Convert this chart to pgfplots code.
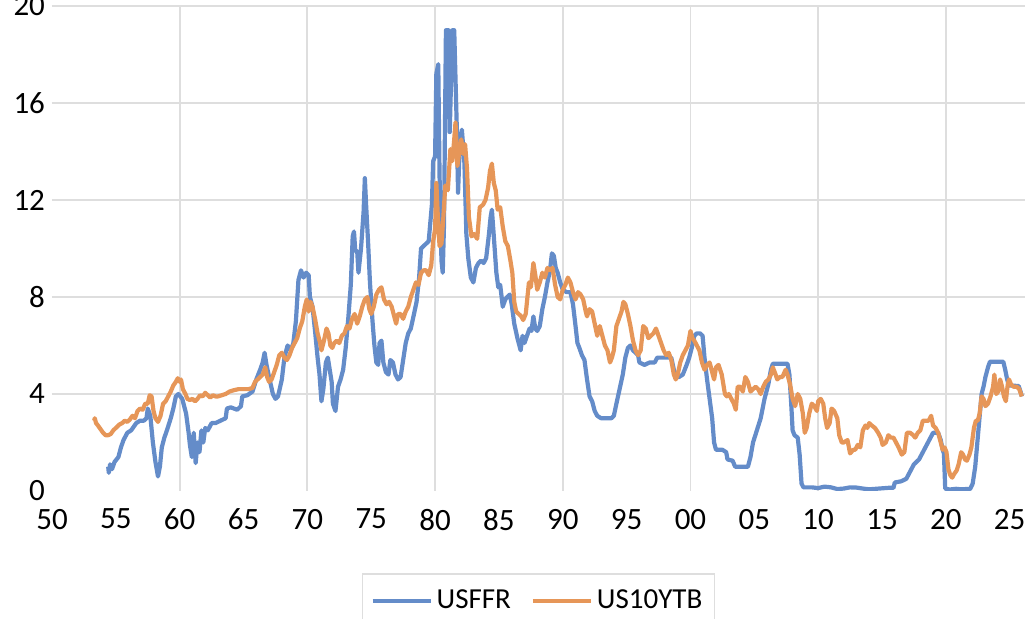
\documentclass[border=0pt]{standalone}
\usepackage{fontspec}
\setmainfont{Carlito}
\usepackage{pgfplots}
\pgfplotsset{compat=1.18}

\definecolor{ffrblue}{RGB}{100,140,201}
\definecolor{tyorange}{RGB}{230,150,88}
\definecolor{gridgray}{RGB}{222,222,222}

\begin{document}
\begin{tikzpicture}
\begin{axis}[
    name=ax,
    scale only axis,
    width=486.5pt, height=242.5pt,
    xmin=1950, xmax=2026.2,
    ymin=0, ymax=20,
    axis line style={draw=none},
    tick style={draw=none},
    xtick={1950,1955,...,2025},
    xticklabels={50,55,60,65,70,75,80,85,90,95,00,05,10,15,20,25},
    ytick={4,8,...,20},
    ymajorgrids=true,
    extra y ticks={0},
    extra y tick style={grid=none},
    extra x ticks={1960,1970,...,2020},
    extra x tick labels={},
    extra x tick style={grid=major},
    grid style={gridgray, line width=0.9pt},
    /pgf/number format/assume math mode=true,
    tick label style={font=\fontsize{15.5}{18}\selectfont},
    xticklabel style={yshift=-5.5pt},
    legend columns=2,
    legend style={
        at={(axis description cs:0.5,-0.169)}, anchor=north,
        draw=gridgray, line width=0.8pt,
        font=\fontsize{14.5}{16}\selectfont,
        inner xsep=4pt, inner ysep=6pt,
        /tikz/every even column/.append style={column sep=8pt},
    },
    legend image code/.code={\draw[#1, line width=2pt] (0pt,0pt) -- (29pt,0pt);},
    every axis plot/.append style={line width=2.1pt, line join=round},
]
% USFFR
\addplot[ffrblue] coordinates {
(1954.40,1.0) (1954.45,0.75) (1954.55,1.1) (1954.7,0.9) (1954.9,1.2)
(1955.2,1.4) (1955.4,1.8) (1955.6,2.1) (1955.9,2.4) (1956.2,2.5)
(1956.6,2.8) (1956.9,2.9) (1957.2,2.9) (1957.4,3.0) (1957.5,3.4)
(1957.7,3.1) (1957.9,2.0) (1958.1,1.2) (1958.3,0.6) (1958.45,1.0)
(1958.6,1.8) (1958.8,2.2) (1959.0,2.5) (1959.3,3.0) (1959.5,3.4)
(1959.7,3.9) (1959.9,4.0) (1960.2,3.8) (1960.5,3.2) (1960.7,2.4)
(1960.8,1.9) (1960.95,1.4) (1961.1,2.4) (1961.25,1.15) (1961.4,2.0)
(1961.55,1.6) (1961.7,2.5) (1961.85,2.0) (1962.0,2.6) (1962.2,2.5)
(1962.5,2.8) (1962.8,2.8) (1963.2,2.9) (1963.6,3.0) (1963.7,3.4)
(1964.0,3.45) (1964.5,3.35) (1964.8,3.5) (1964.9,3.9) (1965.3,3.95)
(1965.7,4.1) (1966.0,4.6) (1966.3,5.0) (1966.5,5.3) (1966.65,5.7)
(1966.8,5.2) (1967.0,4.7) (1967.3,4.0) (1967.5,3.8) (1967.7,3.9)
(1968.0,4.6) (1968.2,5.5) (1968.45,6.0) (1968.7,5.8) (1968.9,6.1)
(1969.1,7.0) (1969.3,8.7) (1969.5,9.1) (1969.7,8.8) (1969.9,9.0)
(1970.1,8.9) (1970.2,8.0) (1970.4,7.6) (1970.6,6.6) (1970.8,5.5)
(1970.95,4.8) (1971.1,3.7) (1971.25,4.2) (1971.45,5.3) (1971.6,5.5)
(1971.75,5.0) (1971.9,4.5) (1972.0,3.6) (1972.2,3.3) (1972.4,4.3)
(1972.6,4.6) (1972.8,5.0) (1973.0,5.9) (1973.2,7.1) (1973.4,8.5)
(1973.55,10.5) (1973.65,10.7) (1973.75,9.9) (1973.9,9.9) (1974.0,9.0)
(1974.2,10.0) (1974.4,11.5) (1974.5,12.9) (1974.6,11.8) (1974.75,10.3)
(1974.9,8.6) (1975.1,7.0) (1975.25,6.0) (1975.4,5.3) (1975.55,5.2)
(1975.65,6.1) (1975.8,6.2) (1975.95,5.3) (1976.15,4.9) (1976.35,4.8)
(1976.5,5.4) (1976.7,5.3) (1976.9,4.8) (1977.1,4.6) (1977.3,4.7)
(1977.5,5.4) (1977.7,6.1) (1977.9,6.5) (1978.1,6.7) (1978.35,7.3)
(1978.55,7.8) (1978.75,8.8) (1978.9,10.0) (1979.1,10.1) (1979.3,10.2)
(1979.5,10.3) (1979.6,10.9) (1979.75,11.8) (1979.85,13.6) (1980.0,13.8)
(1980.1,17.2) (1980.25,17.6) (1980.35,13.0) (1980.5,9.5) (1980.6,9.0)
(1980.7,11.0) (1980.85,19.0) (1981.05,19.0) (1981.15,14.8) (1981.35,19.0)
(1981.5,19.0) (1981.7,15.0) (1981.8,12.3) (1981.95,14.5) (1982.1,14.9)
(1982.3,13.5) (1982.45,10.6) (1982.6,9.6) (1982.8,8.8) (1983.0,8.6)
(1983.2,9.2) (1983.4,9.4) (1983.6,9.5) (1983.8,9.4) (1984.0,9.6)
(1984.2,10.5) (1984.35,11.3) (1984.45,11.6) (1984.6,10.5) (1984.8,9.0)
(1984.95,8.4) (1985.1,8.5) (1985.3,7.6) (1985.5,7.9) (1985.65,8.0)
(1985.85,8.1) (1986.0,7.7) (1986.2,6.9) (1986.45,6.3) (1986.6,6.0)
(1986.7,5.8) (1986.85,6.4) (1987.0,6.1) (1987.2,6.4) (1987.4,6.7)
(1987.55,6.6) (1987.7,7.2) (1987.85,6.7) (1988.0,6.6) (1988.2,6.8)
(1988.4,7.5) (1988.6,8.0) (1988.8,8.6) (1989.0,9.1) (1989.15,9.8)
(1989.3,9.7) (1989.45,9.2) (1989.6,9.0) (1989.8,8.6) (1990.0,8.3)
(1990.3,8.2) (1990.6,8.2) (1990.8,7.7) (1991.0,6.8) (1991.15,6.1)
(1991.3,5.9) (1991.5,5.6) (1991.7,5.4) (1991.9,4.6) (1992.1,3.9)
(1992.3,3.7) (1992.5,3.3) (1992.7,3.1) (1993.0,3.0) (1993.4,3.0)
(1993.8,3.0) (1994.0,3.1) (1994.2,3.6) (1994.45,4.2) (1994.7,4.8)
(1994.9,5.5) (1995.1,5.9) (1995.3,6.0) (1995.5,5.8) (1995.7,5.7)
(1995.9,5.6) (1996.0,5.3) (1996.4,5.2) (1996.8,5.3) (1997.2,5.3)
(1997.4,5.5) (1997.8,5.5) (1998.2,5.5) (1998.5,5.5) (1998.7,5.0)
(1998.9,4.7) (1999.1,4.7) (1999.4,4.8) (1999.7,5.2) (1999.9,5.5)
(2000.1,5.9) (2000.3,6.4) (2000.5,6.5) (2000.75,6.5) (2000.95,6.4)
(2001.1,5.5) (2001.3,4.6) (2001.5,3.8) (2001.7,3.0) (2001.85,2.0)
(2002.0,1.7) (2002.5,1.7) (2002.8,1.6) (2002.9,1.3) (2003.3,1.25)
(2003.5,1.0) (2004.0,1.0) (2004.5,1.0) (2004.7,1.4) (2004.9,2.0)
(2005.2,2.5) (2005.5,3.0) (2005.8,3.8) (2006.1,4.4) (2006.3,5.0)
(2006.45,5.25) (2007.6,5.25) (2007.75,4.8) (2007.9,3.5) (2008.0,2.5)
(2008.15,2.3) (2008.4,2.2) (2008.55,1.5) (2008.7,0.3) (2008.85,0.15)
(2009.5,0.15) (2010.0,0.12) (2010.5,0.18) (2011.0,0.15) (2011.5,0.08)
(2012.0,0.1) (2012.5,0.15) (2013.0,0.14) (2013.5,0.1) (2014.0,0.07)
(2014.5,0.09) (2015.0,0.11) (2015.5,0.13) (2015.9,0.13) (2016.0,0.35)
(2016.5,0.4) (2016.9,0.5) (2017.2,0.8) (2017.5,1.1) (2017.9,1.3)
(2018.2,1.6) (2018.5,1.9) (2018.8,2.2) (2019.0,2.4) (2019.4,2.4)
(2019.6,2.1) (2019.75,1.7) (2019.85,1.55) (2019.95,0.1) (2020.3,0.06)
(2020.8,0.09) (2021.2,0.07) (2021.6,0.08) (2021.9,0.08) (2022.1,0.3)
(2022.3,1.0) (2022.5,2.2) (2022.65,3.1) (2022.8,4.0) (2022.95,4.3)
(2023.1,4.7) (2023.3,5.1) (2023.45,5.33) (2024.5,5.33) (2024.65,5.0)
(2024.8,4.6) (2024.95,4.35) (2025.7,4.33) (2025.85,4.1) (2025.95,3.9)
};
\addlegendentry{USFFR}
% US10YTB
\addplot[tyorange] coordinates {
(1953.3,2.9) (1953.35,3.0) (1953.45,2.8) (1953.6,2.7) (1953.8,2.55)
(1954.0,2.4) (1954.2,2.3) (1954.4,2.3) (1954.6,2.35) (1954.8,2.5)
(1955.0,2.6) (1955.3,2.75) (1955.5,2.8) (1955.7,2.9) (1955.9,2.85)
(1956.1,2.95) (1956.3,3.1) (1956.5,3.0) (1956.7,3.3) (1956.9,3.4)
(1957.1,3.35) (1957.3,3.6) (1957.5,3.6) (1957.65,3.95) (1957.8,3.9)
(1957.95,3.3) (1958.1,3.0) (1958.3,2.85) (1958.5,3.1) (1958.7,3.6)
(1958.9,3.7) (1959.1,3.9) (1959.3,4.1) (1959.5,4.35) (1959.7,4.5)
(1959.85,4.65) (1960.0,4.5) (1960.1,4.6) (1960.25,4.2) (1960.45,4.0)
(1960.6,3.8) (1960.8,3.75) (1961.0,3.8) (1961.2,3.7) (1961.4,3.8)
(1961.6,3.95) (1961.8,3.9) (1962.0,4.05) (1962.2,3.95) (1962.4,3.85)
(1962.6,3.95) (1962.8,3.9) (1963.0,3.9) (1963.3,3.95) (1963.6,4.0)
(1963.9,4.1) (1964.2,4.15) (1964.6,4.2) (1965.0,4.2) (1965.4,4.2)
(1965.7,4.25) (1965.9,4.5) (1966.1,4.6) (1966.3,4.7) (1966.5,4.8)
(1966.7,5.1) (1966.85,4.7) (1967.0,4.5) (1967.2,4.6) (1967.4,4.9)
(1967.6,5.2) (1967.8,5.6) (1968.0,5.7) (1968.2,5.5) (1968.4,5.4)
(1968.6,5.6) (1968.8,5.9) (1969.0,6.1) (1969.2,6.3) (1969.4,6.7)
(1969.6,7.0) (1969.8,7.6) (1969.95,7.9) (1970.1,7.4) (1970.25,7.8)
(1970.4,7.6) (1970.6,7.1) (1970.8,6.5) (1971.0,6.1) (1971.1,5.8)
(1971.3,6.2) (1971.5,6.7) (1971.65,6.5) (1971.8,6.0) (1971.95,5.9)
(1972.1,6.1) (1972.3,6.2) (1972.5,6.1) (1972.7,6.4) (1972.9,6.5)
(1973.1,6.8) (1973.3,6.7) (1973.5,7.1) (1973.7,7.3) (1973.9,6.9)
(1974.1,7.2) (1974.3,7.6) (1974.5,7.9) (1974.7,8.0) (1974.85,7.5)
(1975.0,7.3) (1975.2,7.6) (1975.4,8.1) (1975.6,8.3) (1975.8,8.4)
(1976.0,7.9) (1976.2,7.7) (1976.4,7.8) (1976.6,7.6) (1976.8,7.2)
(1976.95,6.9) (1977.1,7.3) (1977.3,7.3) (1977.5,7.1) (1977.7,7.4)
(1977.9,7.6) (1978.1,8.0) (1978.3,8.3) (1978.5,8.6) (1978.7,8.5)
(1978.9,9.0) (1979.1,9.1) (1979.3,9.1) (1979.5,8.9) (1979.7,9.3)
(1979.85,10.3) (1980.0,10.8) (1980.1,12.7) (1980.2,11.5) (1980.35,10.1)
(1980.5,10.2) (1980.65,11.3) (1980.8,12.6) (1981.0,12.4) (1981.2,14.1)
(1981.35,13.6) (1981.5,14.5) (1981.6,15.2) (1981.75,13.4) (1981.9,14.0)
(1982.05,14.5) (1982.2,13.9) (1982.35,14.3) (1982.5,13.3) (1982.65,11.3)
(1982.85,10.5) (1983.05,10.6) (1983.3,10.4) (1983.5,11.7) (1983.75,11.8)
(1983.95,12.0) (1984.15,12.5) (1984.3,13.2) (1984.45,13.5) (1984.6,12.7)
(1984.75,12.4) (1984.9,11.6) (1985.1,11.7) (1985.3,10.9) (1985.5,10.3)
(1985.7,10.1) (1985.9,9.5) (1986.05,9.0) (1986.2,7.8) (1986.35,7.4)
(1986.55,7.3) (1986.75,7.2) (1986.9,7.05) (1987.1,7.3) (1987.35,8.6)
(1987.5,8.4) (1987.7,9.4) (1987.85,8.9) (1988.0,8.3) (1988.2,8.6)
(1988.4,9.0) (1988.6,8.8) (1988.8,9.2) (1989.0,9.1) (1989.2,9.2)
(1989.4,8.5) (1989.6,8.0) (1989.8,7.9) (1990.0,8.3) (1990.2,8.5)
(1990.4,8.8) (1990.6,8.6) (1990.8,8.2) (1991.0,7.9) (1991.2,8.2)
(1991.4,8.1) (1991.6,7.9) (1991.8,7.4) (1991.9,7.2) (1992.1,7.5)
(1992.3,7.4) (1992.5,6.9) (1992.7,6.4) (1992.9,6.8) (1993.1,6.4)
(1993.3,6.0) (1993.5,5.8) (1993.7,5.3) (1993.85,5.5) (1994.0,5.8)
(1994.2,6.8) (1994.4,7.1) (1994.6,7.4) (1994.75,7.8) (1994.9,7.7)
(1995.1,7.3) (1995.3,6.8) (1995.5,6.2) (1995.7,5.8) (1995.9,5.6)
(1996.1,5.8) (1996.3,6.8) (1996.5,6.7) (1996.7,6.3) (1996.9,6.4)
(1997.1,6.5) (1997.3,6.7) (1997.5,6.4) (1997.7,6.1) (1997.9,5.8)
(1998.1,5.6) (1998.3,5.7) (1998.5,5.4) (1998.7,4.8) (1998.85,4.6)
(1999.0,4.8) (1999.2,5.3) (1999.4,5.6) (1999.6,5.8) (1999.8,6.0)
(2000.0,6.6) (2000.15,6.3) (2000.3,6.2) (2000.5,6.0) (2000.7,5.8)
(2000.9,5.3) (2001.1,5.0) (2001.3,5.2) (2001.5,5.3) (2001.7,4.9)
(2001.85,4.6) (2002.0,5.1) (2002.2,5.2) (2002.45,4.8) (2002.7,4.0)
(2002.85,3.9) (2003.0,4.0) (2003.2,3.8) (2003.4,3.6) (2003.55,3.35)
(2003.7,4.3) (2003.9,4.3) (2004.1,4.1) (2004.3,4.7) (2004.5,4.5)
(2004.7,4.1) (2004.9,4.2) (2005.1,4.3) (2005.3,4.2) (2005.5,4.0)
(2005.7,4.3) (2005.9,4.5) (2006.1,4.6) (2006.3,4.8) (2006.45,5.1)
(2006.6,4.9) (2006.8,4.6) (2007.0,4.7) (2007.2,4.7) (2007.45,5.0)
(2007.6,4.8) (2007.8,4.4) (2008.0,3.8) (2008.2,3.5) (2008.4,4.0)
(2008.6,3.8) (2008.8,3.2) (2008.95,2.4) (2009.1,2.6) (2009.3,3.2)
(2009.5,3.6) (2009.7,3.5) (2009.9,3.3) (2010.0,3.7) (2010.2,3.8)
(2010.4,3.6) (2010.55,3.0) (2010.7,2.6) (2010.9,2.8) (2011.05,3.4)
(2011.25,3.3) (2011.5,3.0) (2011.65,2.3) (2011.85,2.0) (2012.0,2.0)
(2012.3,2.1) (2012.5,1.55) (2012.75,1.7) (2012.9,1.7) (2013.1,1.9)
(2013.3,1.8) (2013.5,2.5) (2013.7,2.7) (2013.85,2.6) (2014.0,2.8)
(2014.2,2.7) (2014.45,2.6) (2014.7,2.4) (2014.9,2.2) (2015.05,1.9)
(2015.3,2.0) (2015.5,2.3) (2015.7,2.2) (2015.9,2.2) (2016.1,2.0)
(2016.3,1.8) (2016.55,1.5) (2016.75,1.6) (2016.95,2.4) (2017.2,2.4)
(2017.45,2.3) (2017.6,2.2) (2017.8,2.4) (2018.0,2.5) (2018.2,2.9)
(2018.45,2.9) (2018.65,2.9) (2018.85,3.1) (2019.0,2.7) (2019.2,2.6)
(2019.4,2.4) (2019.6,2.0) (2019.75,1.7) (2019.9,1.8) (2020.05,1.6)
(2020.2,0.9) (2020.35,0.65) (2020.5,0.55) (2020.65,0.7) (2020.85,0.85)
(2021.0,1.1) (2021.2,1.6) (2021.35,1.5) (2021.5,1.3) (2021.65,1.25)
(2021.85,1.5) (2022.0,1.8) (2022.2,2.6) (2022.35,2.9) (2022.5,2.9)
(2022.65,3.2) (2022.8,3.9) (2022.95,3.8) (2023.1,3.5) (2023.3,3.6)
(2023.5,3.9) (2023.7,4.3) (2023.8,4.8) (2023.95,4.0) (2024.1,4.1)
(2024.25,4.6) (2024.4,4.3) (2024.55,3.9) (2024.7,3.7) (2024.85,4.4)
(2024.95,4.6) (2025.1,4.4) (2025.3,4.3) (2025.55,4.3) (2025.75,4.2)
(2025.95,3.9)
};
\addlegendentry{US10YTB}
\end{axis}
\pgfresetboundingbox
\path ([xshift=-26pt,yshift=-64pt]ax.south west) rectangle ([xshift=2pt,yshift=3pt]ax.north east);
\end{tikzpicture}
\end{document}
